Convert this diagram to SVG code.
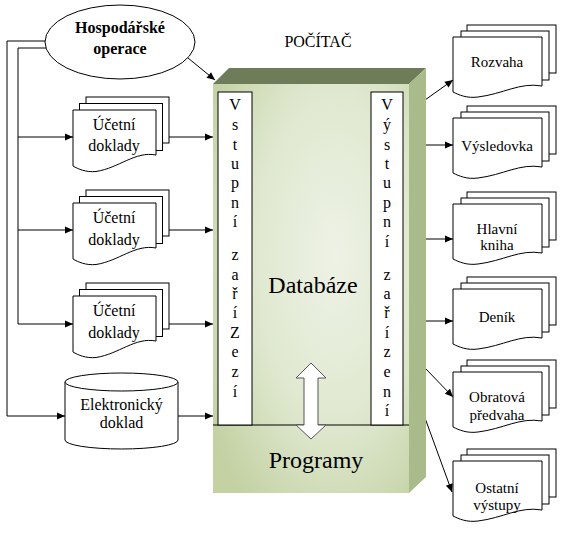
<svg xmlns="http://www.w3.org/2000/svg" width="572" height="535" viewBox="0 0 572 535" font-family="Liberation Serif, Times New Roman, serif">
<style>
text{fill:#000;text-anchor:middle}
.s15{font-size:15px}.s16{font-size:16px}.s24{font-size:24px}
.b{font-weight:bold}
.ln{fill:none;stroke:#000;stroke-width:1}
.pg{fill:#fff;stroke:#000;stroke-width:1}
</style>
<defs>
<marker id="ah" viewBox="0 0 10 10" refX="10" refY="5" markerWidth="9" markerHeight="8" markerUnits="userSpaceOnUse" orient="auto">
<path d="M0,0.5 L10,5 L0,9.5 z" fill="#000"/>
</marker>
<radialGradient id="front" cx="0.62" cy="0.42" r="0.75">
<stop offset="0" stop-color="#eef2e6"/>
<stop offset="0.55" stop-color="#dfe8cf"/>
<stop offset="1" stop-color="#c3d1a3"/>
</radialGradient>
<g id="docL">
<rect class="pg" x="13" y="-13" width="83" height="46"/>
<rect class="pg" x="6.5" y="-6.5" width="83" height="47"/>
<path class="pg" d="M0,0 H83 V45 C62,41 46,58 23,61.5 C13,62.5 5,59 0,56 Z"/>
</g>
<g id="docR">
<rect class="pg" x="14" y="-12" width="89" height="48"/>
<rect class="pg" x="8" y="-6" width="88" height="49"/>
<path class="pg" d="M0,0 H89 V49 C67,45 50,57 25,60 C14,61.5 6,58 0,55 Z"/>
</g>
</defs>

<g id="connectors">
<path class="ln" d="M45,41 H7 V416 H65" marker-end="url(#ah)"/>
<path class="ln" d="M46,48 H18 V324 H73" marker-end="url(#ah)"/>
<path class="ln" d="M18,137 H73" marker-end="url(#ah)"/>
<path class="ln" d="M18,230 H73" marker-end="url(#ah)"/>
<path class="ln" d="M169,137 H213" marker-end="url(#ah)"/>
<path class="ln" d="M169,230 H213" marker-end="url(#ah)"/>
<path class="ln" d="M169,324 H213" marker-end="url(#ah)"/>
<path class="ln" d="M178,416 H213" marker-end="url(#ah)"/>
<path class="ln" d="M188,58 L215,80" marker-end="url(#ah)"/>
<path class="ln" d="M425,100 L453,80" marker-end="url(#ah)"/>
<path class="ln" d="M425,145 H453" marker-end="url(#ah)"/>
<path class="ln" d="M425,239 H453" marker-end="url(#ah)"/>
<path class="ln" d="M425,321 H453" marker-end="url(#ah)"/>
<path class="ln" d="M425,368 L453,397" marker-end="url(#ah)"/>
<path class="ln" d="M425,418 L452,492" marker-end="url(#ah)"/>
</g>

<g id="hospodarske-operace">
<ellipse class="pg" cx="120" cy="42" rx="75" ry="37"/>
<text class="s16 b" x="120" y="33">Hospodářské</text>
<text class="s16 b" x="120" y="54">operace</text>
</g>

<g id="ucetni-doklady-1">
<use href="#docL" x="73" y="110"/>
<text class="s16" x="114" y="130">Účetní</text>
<text class="s16" x="114" y="151">doklady</text>
</g>
<g id="ucetni-doklady-2">
<use href="#docL" x="73" y="203"/>
<text class="s16" x="114" y="223">Účetní</text>
<text class="s16" x="114" y="245">doklady</text>
</g>
<g id="ucetni-doklady-3">
<use href="#docL" x="73" y="296"/>
<text class="s16" x="114" y="316">Účetní</text>
<text class="s16" x="114" y="338">doklady</text>
</g>

<g id="elektronicky-doklad">
<path class="pg" d="M65,382 V440 A56.5,9 0 0 0 178,440 V382"/>
<ellipse class="pg" cx="121.5" cy="382" rx="56.5" ry="9"/>
<text class="s16" x="121.5" y="410">Elektronický</text>
<text class="s16" x="121.5" y="428">doklad</text>
</g>

<g id="pocitac">
<text class="s16" x="318" y="47">POČÍTAČ</text>
<polygon points="213,84 229,68 426,68 409,84" fill="#6f7c59"/>
<polygon points="409,84 426,68 426,477 409,493" fill="#a9bb8a"/>
<rect x="213" y="84" width="196" height="409" fill="url(#front)"/>
<line x1="213" y1="425" x2="409" y2="425" stroke="#000" stroke-width="1"/>
<rect class="pg" x="218" y="92" width="34" height="333"/>
<rect class="pg" x="371" y="92" width="32" height="333"/>
<g class="s16">
<text x="235" y="110">V</text><text x="235" y="130">s</text><text x="235" y="150">t</text><text x="235" y="169">u</text><text x="235" y="188">p</text><text x="235" y="208">n</text><text x="235" y="227">í</text>
<text x="235" y="260">z</text><text x="235" y="280">a</text><text x="235" y="299">ř</text><text x="235" y="318">í</text><text x="235" y="338">Z</text><text x="235" y="357">e</text><text x="235" y="377">z</text><text x="235" y="397">í</text>
<text x="387" y="110">V</text><text x="387" y="130">ý</text><text x="387" y="150">s</text><text x="387" y="169">t</text><text x="387" y="188">u</text><text x="387" y="208">p</text><text x="387" y="227">n</text><text x="387" y="247">í</text>
<text x="387" y="280">z</text><text x="387" y="299">a</text><text x="387" y="318">ř</text><text x="387" y="338">í</text><text x="387" y="357">z</text><text x="387" y="377">e</text><text x="387" y="397">n</text><text x="387" y="416">í</text>
</g>
<text class="s24" x="313" y="293">Databáze</text>
<text class="s24" x="316" y="468">Programy</text>
<polygon points="311,363 326,378 318,378 318,425 326,425 311,439 296,425 304,425 304,378 296,378" fill="#fff" stroke="#555" stroke-width="1"/>
</g>

<g id="rozvaha">
<use href="#docR" x="453" y="37"/>
<text class="s15" x="497" y="67">Rozvaha</text>
</g>
<g id="vysledovka">
<use href="#docR" x="453" y="118"/>
<text class="s15" x="497" y="151">Výsledovka</text>
</g>
<g id="hlavni-kniha">
<use href="#docR" x="453" y="204"/>
<text class="s15" x="497" y="234">Hlavní</text>
<text class="s15" x="497" y="250">kniha</text>
</g>
<g id="denik">
<use href="#docR" x="453" y="289"/>
<text class="s15" x="497" y="322">Deník</text>
</g>
<g id="obratova-predvaha">
<use href="#docR" x="453" y="372"/>
<text class="s15" x="497" y="402">Obratová</text>
<text class="s15" x="497" y="420">předvaha</text>
</g>
<g id="ostatni-vystupy">
<use href="#docR" x="453" y="461"/>
<text class="s15" x="497" y="493">Ostatní</text>
<text class="s15" x="497" y="510">výstupy</text>
</g>
</svg>
